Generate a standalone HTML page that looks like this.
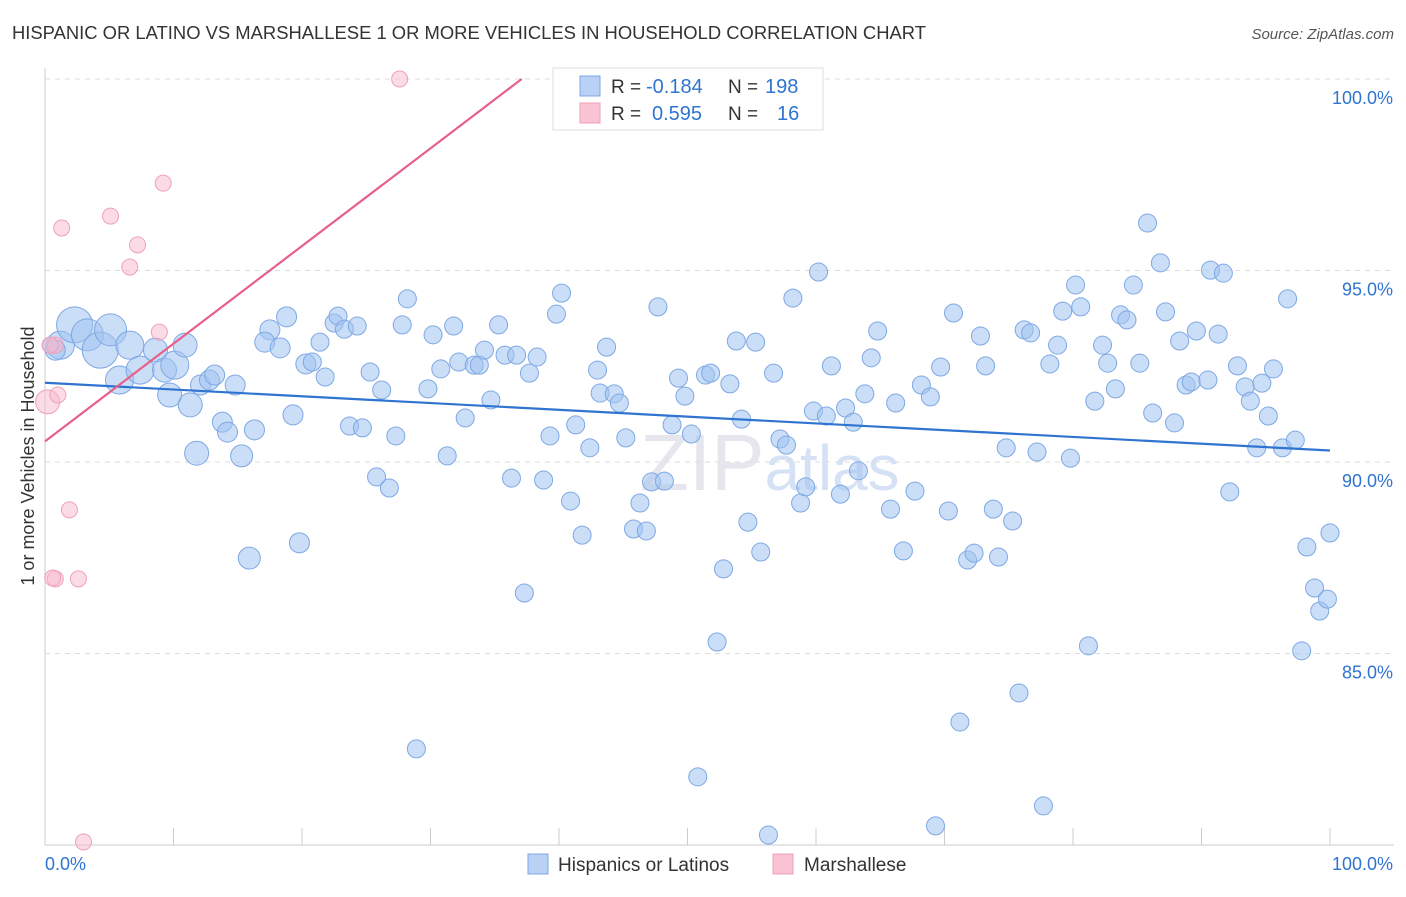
<!DOCTYPE html>
<html><head><meta charset="utf-8">
<style>
body{margin:0;background:#fff;font-family:"Liberation Sans",sans-serif;}
svg text{font-family:"Liberation Sans",sans-serif;}
</style></head>
<body>
<svg id="chart" width="1406" height="892" xmlns="http://www.w3.org/2000/svg">
<text x="12" y="39" font-size="18" fill="#333" textLength="914" lengthAdjust="spacingAndGlyphs">HISPANIC OR LATINO VS MARSHALLESE 1 OR MORE VEHICLES IN HOUSEHOLD CORRELATION CHART</text>
<text x="1394" y="39" font-size="15" fill="#555" text-anchor="end" font-style="italic">Source: ZipAtlas.com</text>
<text x="0" y="0" transform="translate(34,456) rotate(-90)" font-size="18" fill="#333" text-anchor="middle">1 or more Vehicles in Household</text>
<text x="640" y="490" font-size="80" fill="#e6e6ee" font-family="Liberation Serif">ZIP<tspan fill="#d5e2f5" font-family="Liberation Sans" font-size="64">atlas</tspan></text>
<g id="grid"></g><g id="axes"></g><g id="pts"></g><g id="lines"></g>
<g>
<rect x="553" y="68" width="270" height="62" fill="#fff" stroke="#ddd"/>
<rect x="580" y="76" width="20" height="20" fill="#b8d1f5" stroke="#7ea8e4"/>
<rect x="580" y="103" width="20" height="20" fill="#fac3d3" stroke="#f0a0b8"/>
<text x="611" y="93" font-size="19" fill="#333">R = </text><text x="646" y="93" font-size="20" fill="#2f74d0">-0.184</text>
<text x="728" y="93" font-size="19" fill="#333">N = </text><text x="765" y="93" font-size="20" fill="#2f74d0">198</text>
<text x="611" y="120" font-size="19" fill="#333">R = </text><text x="652" y="120" font-size="20" fill="#2f74d0">0.595</text>
<text x="728" y="120" font-size="19" fill="#333">N = </text><text x="777" y="120" font-size="20" fill="#2f74d0">16</text>
</g>
<g>
<rect x="528" y="854" width="20" height="20" fill="#b8d1f5" stroke="#7ea8e4"/>
<text x="558" y="871" font-size="19" fill="#333">Hispanics or Latinos</text>
<rect x="773" y="854" width="20" height="20" fill="#fac3d3" stroke="#f0a0b8"/>
<text x="804" y="871" font-size="19" fill="#333">Marshallese</text>
</g>
</svg>
<script>
const blueX=[1.2,2.3,3.3,4.3,5.1,5.8,6.6,7.4,8.6,9.3,10.1,10.9,9.7,11.3,12.1,12.8,13.2,14.8,0.8,0.4,
11.8,13.8,14.2,15.3,16.3,15.9,17.5,17.1,18.3,18.8,19.3,19.8,20.3,20.8,21.4,21.8,22.5,22.8,23.3,24.3,23.7,24.7,25.3,25.8,26.2,26.8,27.3,27.8,28.2,28.9,29.8,30.2,30.8,31.3,31.8,32.2,32.7,33.4,33.8,34.2,34.7,35.3,35.8,36.3,36.7,37.3,37.7,38.3,38.8,39.3,39.8,40.2,40.9,41.3,41.8,42.4,43.0,43.2,43.7,44.3,44.7,45.2,45.8,46.3,46.8,47.2,47.7,48.2,48.8,49.3,49.8,50.3,50.8,51.4,51.8,52.3,52.8,53.3,53.8,54.2,54.7,55.3,55.7,56.7,57.2,57.7,58.2,58.8,59.2,59.8,60.2,60.8,61.2,61.9,62.3,62.9,63.3,63.8,64.3,64.8,65.8,66.2,66.8,67.7,68.2,68.9,69.3,69.7,70.3,70.7,71.2,71.8,72.3,72.8,73.2,73.8,74.2,74.8,75.3,75.8,76.2,76.7,77.2,77.7,78.2,78.8,79.2,79.8,80.2,80.6,81.2,81.7,82.3,82.7,83.3,83.7,84.2,84.7,85.2,85.8,86.2,86.8,87.2,87.9,88.3,88.8,89.2,89.6,90.5,90.7,91.3,91.7,92.2,92.8,93.4,93.8,94.3,94.7,95.2,95.6,96.3,96.7,97.3,97.8,98.2,98.8,99.2,99.8,100.0,56.3];
const blueY=[93.05,93.58,93.32,92.92,93.45,92.14,93.05,92.40,92.92,92.40,92.53,93.05,91.75,91.49,92.01,92.14,92.27,92.01,92.92,93.05,
90.23,91.04,90.78,90.16,90.84,87.49,93.45,93.13,92.98,93.79,91.23,87.89,92.56,92.61,93.13,92.22,93.63,93.81,93.47,93.55,90.94,90.89,92.35,89.61,91.88,89.32,90.68,93.58,94.26,82.51,91.91,93.32,92.43,90.16,93.55,92.61,91.15,92.53,92.53,92.92,91.62,93.58,92.79,89.58,92.79,86.58,92.32,92.74,89.53,90.68,93.86,94.41,88.98,90.97,88.09,90.37,92.40,91.80,93.00,91.78,91.54,90.63,88.25,88.93,88.20,89.48,94.05,89.50,90.97,92.19,91.72,90.73,81.78,92.27,92.32,85.30,87.21,92.04,93.16,91.12,88.43,93.13,87.65,92.32,90.60,90.44,94.28,88.93,89.35,91.33,94.96,91.20,92.51,89.16,91.41,91.04,89.77,91.78,92.72,93.42,88.77,91.54,87.68,89.24,92.01,91.70,80.50,92.48,88.72,93.89,83.21,87.44,87.62,93.29,92.51,88.77,87.52,90.37,88.46,83.97,93.45,93.37,90.26,81.02,92.56,93.05,93.94,90.10,94.62,94.05,85.20,91.59,93.05,92.58,91.91,93.84,93.71,94.62,92.58,96.24,91.28,95.20,93.92,91.02,93.16,92.01,92.09,93.42,92.14,95.01,93.34,94.93,89.22,92.51,91.96,91.59,90.37,92.06,91.20,92.43,90.37,94.26,90.57,85.07,87.78,86.71,86.11,86.42,88.15,80.26];
const blueR=[14,18,16,18,16,14,14,14,12,12,14,12,12,12,10,10,10,10,10,8,12,10,10,11,10,11,10,10,10,10,10,10,10];
const pinkX=[27.6,0.8,0.4,0.2,1.0,1.3,5.1,7.2,6.6,9.2,8.9,1.9,0.8,0.6,2.6,3.0];
const pinkY=[100.0,93.05,93.05,91.57,91.75,96.11,96.42,95.67,95.09,97.28,93.39,88.75,86.95,86.97,86.95,80.08];
const pinkR=[8,8,8,12,8,8,8,8,8,8,8,8,8,8,8,8];
const yTicks=[100,95,90,85];
const xTickVals=[0,10,20,30,40,50,60,70,80,90,100];
const blueTrend=[92.07,90.3];
const pinkTrend=[90.54,0.255];
const NS="http://www.w3.org/2000/svg";
const sx=v=>45+v*12.85, sy=v=>79+(100-v)*38.3;
function mk(tag,attrs,parent){const e=document.createElementNS(NS,tag);for(const k in attrs)e.setAttribute(k,attrs[k]);document.getElementById(parent).appendChild(e);return e;}
yTicks.forEach(t=>{
 const l=mk('line',{x1:45,x2:1394,y1:sy(t),y2:sy(t),stroke:'#ddd','stroke-dasharray':'5,5'},'grid');
 
 
 const tx=mk('text',{x:1393,y:sy(t)+25,'font-size':18,fill:'#2f74d0','text-anchor':'end'},'axes');
 tx.textContent=t.toFixed(1)+'%';
 
 
});
mk('line',{x1:45,x2:45,y1:68,y2:845,stroke:'#ccc'},'axes');
mk('line',{x1:45,x2:1394,y1:845,y2:845,stroke:'#ccc'},'axes');
xTickVals.forEach(t=>{
 const l=mk('line',{x1:sx(t),x2:sx(t),y1:828,y2:845,stroke:'#ccc'},'axes');
 
 
});
const t0=mk('text',{x:45,y:870,'font-size':18,fill:'#2f74d0'},'axes');t0.textContent='0.0%';


const t1=mk('text',{x:1393,y:870,'font-size':18,fill:'#2f74d0','text-anchor':'end'},'axes');t1.textContent='100.0%';


blueX.forEach((x,i)=>{
 const c=mk('circle',{cx:sx(x),cy:sy(blueY[i]),r:blueR[i]||9,fill:'rgba(160,195,240,0.55)',stroke:'#7ea8e4','stroke-width':1},'pts');
 
 
});
pinkX.forEach((x,i)=>{
 const c=mk('circle',{cx:sx(x),cy:sy(pinkY[i]),r:pinkR[i],fill:'rgba(248,185,205,0.5)',stroke:'#f0a0b8','stroke-width':1},'pts');
 
 
});
const bl=mk('line',{x1:sx(0),y1:sy(blueTrend[0]),x2:sx(100),y2:sy(blueTrend[1]),stroke:'#2f74d0','stroke-width':2.2},'lines');


const pxEnd=(100-pinkTrend[0])/pinkTrend[1];
const pl=mk('line',{x1:sx(0),y1:sy(pinkTrend[0]),x2:sx(pxEnd),y2:sy(100),stroke:'#e8608a','stroke-width':2.2},'lines');


</script>
</body></html>
